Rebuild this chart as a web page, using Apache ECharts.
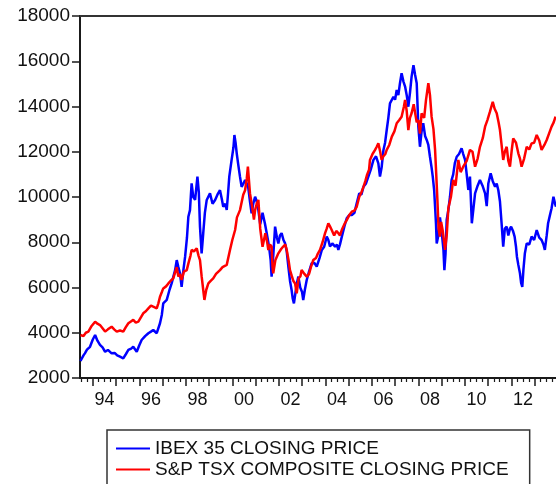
<!DOCTYPE html>
<html>
<head>
<meta charset="utf-8">
<script src="https://cdn.jsdelivr.net/npm/echarts@6/dist/echarts.min.js"></script>
<style>
  html, body { margin: 0; padding: 0; background: #fff; }
  #chart { width: 556px; height: 484px; }
</style>
</head>
<body>
<div id="chart"></div>
<script>
// Daily closes summarised as [decimal year, closing price]
const ibexClose = [
  [1993.47, 2750], [1993.52, 2800], [1993.6, 3000], [1993.66, 3090], [1993.75, 3250],
  [1993.88, 3380], [1994.0, 3700], [1994.1, 3900], [1994.2, 3650], [1994.31, 3460],
  [1994.42, 3350], [1994.53, 3160], [1994.65, 3240], [1994.81, 3090], [1994.95, 3100],
  [1995.05, 3000], [1995.17, 2940], [1995.31, 2870], [1995.42, 3050], [1995.53, 3240],
  [1995.65, 3300], [1995.74, 3380], [1995.89, 3160], [1996.0, 3450], [1996.1, 3680],
  [1996.25, 3850], [1996.39, 3980], [1996.5, 4050], [1996.6, 4120], [1996.75, 3980],
  [1996.89, 4420], [1996.97, 4800], [1997.03, 5300], [1997.18, 5450], [1997.3, 5900],
  [1997.39, 6180], [1997.54, 6770], [1997.61, 7210], [1997.68, 6900], [1997.75, 6630],
  [1997.82, 6030], [1997.9, 6800], [1997.97, 7360], [1998.05, 8200], [1998.11, 9130],
  [1998.18, 9420], [1998.25, 10600], [1998.32, 10000], [1998.4, 9870], [1998.5, 10900],
  [1998.56, 10200], [1998.61, 8690], [1998.68, 7510], [1998.72, 8000], [1998.75, 8400],
  [1998.82, 9300], [1998.9, 9870], [1999.04, 10160], [1999.15, 9700], [1999.26, 9870],
  [1999.36, 10100], [1999.47, 10300], [1999.55, 9900], [1999.61, 9570], [1999.7, 9700],
  [1999.76, 9430], [1999.82, 10200], [1999.87, 10900], [1999.97, 11640], [2000.05, 12200],
  [2000.09, 12740], [2000.14, 12400], [2000.19, 11930], [2000.26, 11400], [2000.33, 10900],
  [2000.4, 10450], [2000.48, 10600], [2000.55, 10750], [2000.62, 10600], [2000.69, 10380],
  [2000.76, 9800], [2000.83, 9280], [2000.9, 9700], [2000.98, 10010], [2001.05, 9800],
  [2001.12, 9420], [2001.2, 8800], [2001.3, 9300], [2001.4, 8840], [2001.48, 8400],
  [2001.58, 7810], [2001.65, 7200], [2001.69, 6480], [2001.76, 7400], [2001.84, 8690],
  [2001.92, 8200], [2001.98, 7950], [2002.05, 8300], [2002.12, 8400], [2002.2, 8100],
  [2002.27, 7950], [2002.34, 7600], [2002.41, 6920], [2002.48, 6300], [2002.55, 5890],
  [2002.6, 5500], [2002.65, 5300], [2002.72, 5800], [2002.78, 6200], [2002.84, 6480],
  [2002.92, 6000], [2003.0, 5800], [2003.05, 5450], [2003.12, 5900], [2003.2, 6330],
  [2003.3, 6700], [2003.41, 7070], [2003.52, 7100], [2003.63, 6920], [2003.75, 7300],
  [2003.85, 7660], [2003.95, 7800], [2004.06, 8250], [2004.13, 8100], [2004.2, 7810],
  [2004.3, 7950], [2004.42, 7810], [2004.5, 7900], [2004.56, 7660], [2004.63, 7900],
  [2004.71, 8250], [2004.82, 8700], [2004.92, 9060], [2005.03, 9200], [2005.14, 9200],
  [2005.25, 9300], [2005.35, 9720], [2005.46, 10160], [2005.55, 10100], [2005.64, 10450],
  [2005.75, 10600], [2005.85, 10900], [2005.95, 11200], [2006.07, 11640], [2006.18, 11800],
  [2006.28, 11490], [2006.35, 10900], [2006.42, 11300], [2006.5, 12080], [2006.57, 12400],
  [2006.64, 12960], [2006.71, 13500], [2006.78, 14140], [2006.86, 14200], [2006.93, 14430],
  [2007.0, 14300], [2007.07, 14730], [2007.14, 14500], [2007.21, 15030], [2007.28, 15470],
  [2007.36, 15100], [2007.43, 14880], [2007.5, 14500], [2007.57, 13990], [2007.64, 14600],
  [2007.71, 15320], [2007.79, 15830], [2007.86, 15400], [2007.93, 15030], [2008.0, 13110],
  [2008.07, 12220], [2008.14, 12900], [2008.21, 13260], [2008.29, 12700], [2008.36, 12520],
  [2008.43, 12300], [2008.5, 11780], [2008.57, 11300], [2008.62, 10900], [2008.68, 10300],
  [2008.72, 9570], [2008.76, 8800], [2008.79, 7950], [2008.86, 8300], [2008.93, 9100],
  [2009.0, 8500], [2009.08, 7660], [2009.12, 6770], [2009.17, 7500], [2009.22, 9000],
  [2009.29, 9420], [2009.36, 10000], [2009.43, 10750], [2009.5, 11000], [2009.57, 11500],
  [2009.65, 11780], [2009.75, 11900], [2009.86, 12150], [2009.93, 11900], [2010.01, 11640],
  [2010.08, 11000], [2010.15, 10310], [2010.22, 10900], [2010.3, 8840], [2010.37, 9500],
  [2010.44, 10160], [2010.55, 10500], [2010.65, 10750], [2010.76, 10500], [2010.87, 10160],
  [2010.94, 9600], [2011.01, 10600], [2011.11, 11050], [2011.2, 10700], [2011.3, 10450],
  [2011.37, 10600], [2011.44, 10300], [2011.51, 9800], [2011.58, 8840], [2011.65, 7810],
  [2011.72, 8600], [2011.8, 8690], [2011.87, 8300], [2011.94, 8600], [2011.99, 8690],
  [2012.07, 8500], [2012.14, 8250], [2012.2, 7800], [2012.24, 7360], [2012.3, 7000],
  [2012.37, 6630], [2012.42, 6200], [2012.47, 6030], [2012.52, 6800], [2012.58, 7500],
  [2012.66, 7950], [2012.77, 7900], [2012.87, 8250], [2012.98, 8100], [2013.09, 8540],
  [2013.2, 8200], [2013.3, 8100], [2013.38, 7900], [2013.44, 7660], [2013.52, 8300],
  [2013.58, 8840], [2013.66, 9200], [2013.73, 9500], [2013.81, 10010], [2013.88, 9700],
  [2013.92, 9570]
];

const tsxClose = [
  [1993.47, 3900], [1993.52, 3980], [1993.6, 3850], [1993.7, 4000], [1993.81, 4050],
  [1993.95, 4300], [1994.1, 4490], [1994.2, 4400], [1994.31, 4340], [1994.42, 4200],
  [1994.53, 4050], [1994.65, 4150], [1994.81, 4270], [1994.92, 4150], [1995.03, 4050],
  [1995.17, 4100], [1995.31, 4050], [1995.42, 4250], [1995.53, 4420], [1995.64, 4500],
  [1995.74, 4570], [1995.85, 4450], [1995.96, 4490], [1996.08, 4700], [1996.17, 4860],
  [1996.28, 4950], [1996.39, 5080], [1996.5, 5200], [1996.6, 5150], [1996.75, 5080],
  [1996.82, 5300], [1996.89, 5590], [1996.97, 5800], [1997.03, 5960], [1997.15, 6050],
  [1997.25, 6180], [1997.35, 6300], [1997.46, 6400], [1997.55, 6700], [1997.61, 6900],
  [1997.68, 6480], [1997.75, 6600], [1997.82, 6330], [1997.92, 6700], [1998.04, 6770],
  [1998.12, 7100], [1998.2, 7400], [1998.25, 7660], [1998.35, 7600], [1998.47, 7730],
  [1998.55, 7400], [1998.61, 7210], [1998.68, 6500], [1998.75, 5890], [1998.8, 5450],
  [1998.88, 5900], [1998.97, 6180], [1999.08, 6300], [1999.18, 6400], [1999.3, 6600],
  [1999.47, 6770], [1999.58, 6900], [1999.76, 7000], [1999.9, 7660], [2000.0, 8100],
  [2000.12, 8540], [2000.2, 9100], [2000.33, 9420], [2000.47, 10100], [2000.55, 10300],
  [2000.62, 10800], [2000.67, 11340], [2000.76, 10160], [2000.85, 9600], [2000.93, 9000],
  [2000.98, 9420], [2001.05, 9700], [2001.12, 9870], [2001.2, 8600], [2001.3, 7800],
  [2001.42, 8400], [2001.5, 8000], [2001.55, 7660], [2001.62, 7900], [2001.69, 7810],
  [2001.73, 6900], [2001.76, 6630], [2001.85, 7200], [2001.98, 7510], [2002.1, 7700],
  [2002.19, 7810], [2002.28, 7900], [2002.34, 7660], [2002.42, 7200], [2002.48, 6770],
  [2002.56, 6500], [2002.62, 6300], [2002.7, 6180], [2002.77, 5740], [2002.85, 6400],
  [2002.93, 6500], [2002.98, 6770], [2003.1, 6600], [2003.2, 6480], [2003.3, 6600],
  [2003.38, 6900], [2003.48, 7210], [2003.6, 7300], [2003.68, 7500], [2003.77, 7660],
  [2003.88, 8000], [2003.99, 8400], [2004.06, 8600], [2004.13, 8840], [2004.2, 8700],
  [2004.27, 8550], [2004.38, 8300], [2004.47, 8500], [2004.56, 8400], [2004.63, 8300],
  [2004.71, 8550], [2004.82, 8800], [2004.92, 8980], [2005.03, 9200], [2005.14, 9350],
  [2005.25, 9400], [2005.35, 9570], [2005.46, 10010], [2005.55, 10200], [2005.64, 10450],
  [2005.72, 10700], [2005.8, 11000], [2005.88, 11200], [2005.92, 11640], [2006.03, 11900],
  [2006.14, 12080], [2006.2, 12200], [2006.28, 12370], [2006.36, 12000], [2006.42, 11640],
  [2006.5, 11800], [2006.58, 11900], [2006.64, 12080], [2006.75, 12300], [2006.86, 12670],
  [2006.97, 12900], [2007.07, 13260], [2007.18, 13400], [2007.28, 13550], [2007.38, 14000],
  [2007.43, 14290], [2007.5, 13800], [2007.57, 12960], [2007.64, 13500], [2007.71, 13700],
  [2007.8, 14100], [2007.86, 14140], [2007.93, 13300], [2008.0, 13400], [2008.07, 12800],
  [2008.14, 13700], [2008.25, 13500], [2008.33, 14290], [2008.43, 15030], [2008.5, 14500],
  [2008.57, 13550], [2008.65, 13000], [2008.72, 12080], [2008.77, 11000], [2008.82, 9870],
  [2008.87, 8600], [2008.93, 8250], [2008.98, 8900], [2009.05, 8500], [2009.15, 7660],
  [2009.22, 8300], [2009.29, 9500], [2009.4, 10000], [2009.5, 10750], [2009.6, 10500],
  [2009.72, 11640], [2009.82, 11100], [2009.93, 11340], [2010.08, 11600], [2010.22, 12080],
  [2010.33, 12000], [2010.44, 11340], [2010.55, 11700], [2010.65, 12220], [2010.77, 12600],
  [2010.87, 13110], [2010.97, 13400], [2011.08, 13770], [2011.2, 14210], [2011.28, 13900],
  [2011.37, 13700], [2011.45, 13300], [2011.51, 12960], [2011.58, 12300], [2011.65, 11640],
  [2011.72, 12000], [2011.8, 12220], [2011.87, 11600], [2011.94, 11340], [2012.02, 12100],
  [2012.08, 12590], [2012.2, 12400], [2012.3, 11930], [2012.37, 11700], [2012.44, 11340],
  [2012.55, 11700], [2012.66, 12220], [2012.77, 12100], [2012.87, 12370], [2012.98, 12400],
  [2013.09, 12740], [2013.2, 12500], [2013.3, 12080], [2013.42, 12300], [2013.52, 12520],
  [2013.62, 12800], [2013.73, 13110], [2013.82, 13300], [2013.9, 13550]
];

const seriesNames = ['IBEX 35 CLOSING PRICE', 'S&P TSX COMPOSITE CLOSING PRICE'];
const yearLabels = ['94', '96', '98', '00', '02', '04', '06', '08', '10', '12'];

// Sample window (decimal years) and value range
const X_START = 1993.45;
const X_END = 2013.92;
const Y_MIN = 2000;
const Y_MAX = 18000;
const Y_STEP = 2000;

const toYear = s => { const n = parseInt(s, 10); return n < 50 ? 2000 + n : 1900 + n; };
// Each two-digit label sits at the middle of its year
const labelPositions = yearLabels.map(s => toYear(s) + 0.5);
const yearTicks = [];
for (let y = Math.ceil(X_START); y <= X_END; y++) yearTicks.push(y);
const quarterTicks = [];
for (let q = Math.ceil(X_START * 4); q / 4 <= X_END; q++) {
  if (q % 4 !== 0) quarterTicks.push(q / 4);
}

const FONT = 'Arial, "Liberation Sans", sans-serif';
const INK = '#1a1a1a';

const chart = echarts.init(document.getElementById('chart'), null, { renderer: 'canvas' });
chart.setOption({
  animation: false,
  backgroundColor: '#ffffff',
  color: ['#0000ff', '#ff0000'],
  grid: { left: 80, right: 0, top: 16, bottom: 106, containLabel: false },
  legend: {
    data: seriesNames,
    orient: 'vertical',
    left: 107,
    top: 430,
    height: 80,
    icon: 'rect',
    itemWidth: 34,
    itemHeight: 2,
    itemGap: 2,
    padding: [9, 21, 12, 9],
    borderColor: '#333',
    borderWidth: 1.5,
    textStyle: { fontFamily: FONT, fontSize: 19, color: '#111' }
  },
  xAxis: [
    {
      type: 'value', position: 'bottom', min: X_START, max: X_END,
      axisLine: { show: true, onZero: false, lineStyle: { color: INK, width: 2 } },
      axisTick: { show: true, customValues: yearTicks, length: 8, lineStyle: { color: INK, width: 1.5 } },
      axisLabel: {
        customValues: labelPositions, margin: 13,
        fontFamily: FONT, fontSize: 18, color: '#111',
        formatter: v => yearLabels[labelPositions.findIndex(p => Math.abs(p - v) < 1e-6)] || ''
      },
      splitLine: { show: false }
    },
    {
      type: 'value', position: 'bottom', min: X_START, max: X_END,
      axisLine: { show: false, onZero: false },
      axisTick: { show: true, customValues: quarterTicks, length: 4, lineStyle: { color: INK, width: 1.2 } },
      axisLabel: { show: false },
      splitLine: { show: false }
    },
    {
      type: 'value', position: 'top', min: X_START, max: X_END,
      axisLine: { show: true, onZero: false, lineStyle: { color: '#333', width: 2 } },
      axisTick: { show: false }, axisLabel: { show: false }, splitLine: { show: false }
    }
  ],
  yAxis: {
    type: 'value', min: Y_MIN, max: Y_MAX, interval: Y_STEP,
    axisLine: { show: true, lineStyle: { color: INK, width: 2 } },
    axisTick: { show: true, length: 8, lineStyle: { color: INK, width: 1.5 } },
    axisLabel: { margin: 10, fontFamily: FONT, fontSize: 19, color: '#111', formatter: v => String(v) },
    splitLine: { show: false }
  },
  series: [
    {
      name: seriesNames[0], type: 'line', xAxisIndex: 0, data: ibexClose,
      symbol: 'none', clip: true, lineStyle: { width: 2.5, color: '#0000ff' }
    },
    {
      name: seriesNames[1], type: 'line', xAxisIndex: 0, data: tsxClose,
      symbol: 'none', clip: true, lineStyle: { width: 2.5, color: '#ff0000' }
    }
  ]
});
</script>
</body>
</html>
